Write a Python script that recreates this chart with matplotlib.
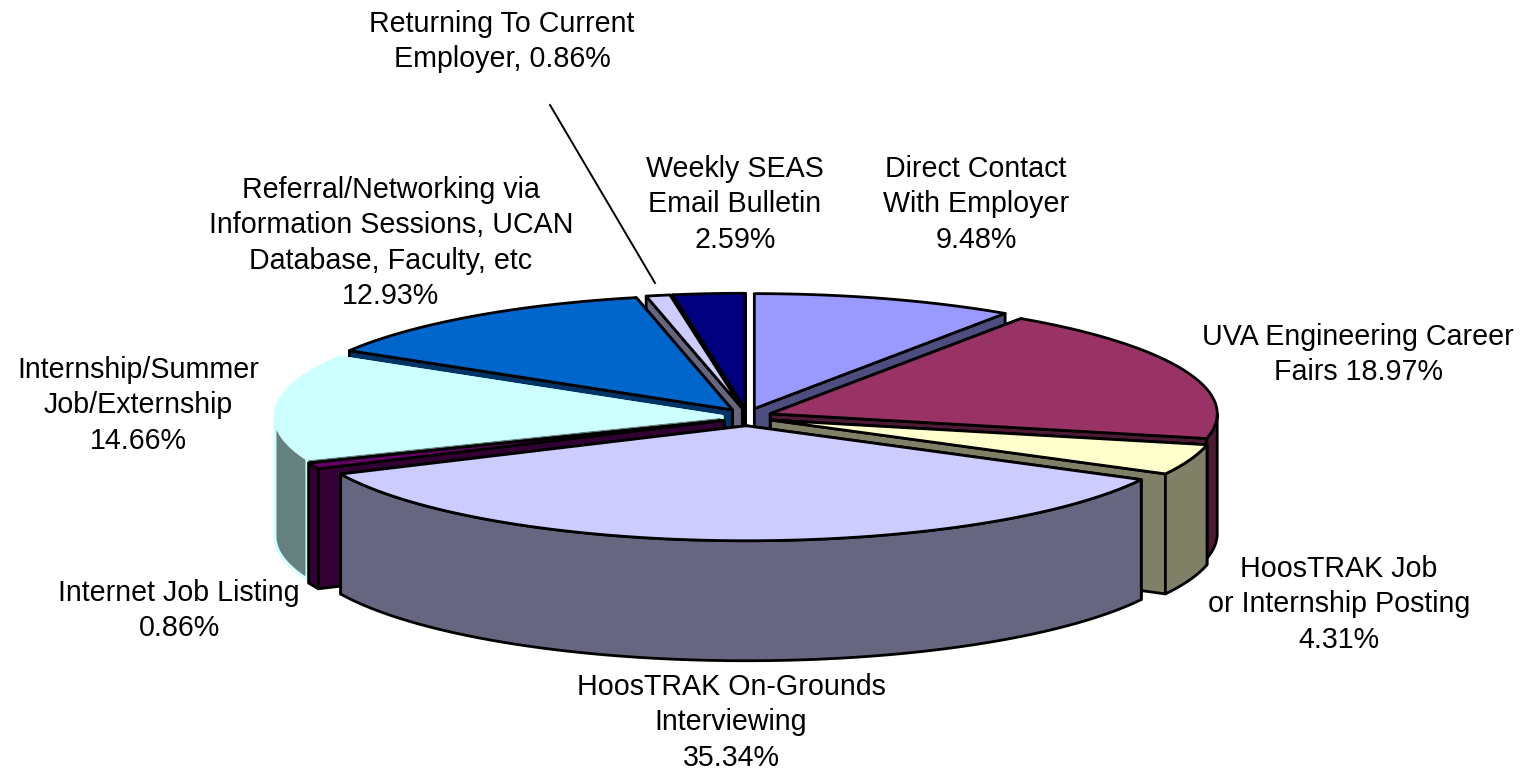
import numpy as np
import matplotlib
matplotlib.use('Agg')
import matplotlib.pyplot as plt

plt.rcParams['font.family'] = ['Liberation Sans', 'DejaVu Sans']

labels = ['Direct Contact\nWith Employer\n9.48%',
          'UVA Engineering Career\nFairs 18.97%',
          'HoosTRAK Job\nor Internship Posting\n4.31%',
          'HoosTRAK On-Grounds\nInterviewing\n35.34%',
          'Internet Job Listing\n0.86%',
          'Internship/Summer\nJob/Externship\n14.66%',
          'Referral/Networking via\nInformation Sessions, UCAN\nDatabase, Faculty, etc\n12.93%',
          'Returning To Current\nEmployer, 0.86%',
          'Weekly SEAS\nEmail Bulletin\n2.59%']
shares = [9.48, 18.97, 4.31, 35.34, 0.86, 14.66, 12.93, 0.86, 2.59]
top_colors = ['#9999FF', '#993366', '#FFFFCC', '#CCCCFF', '#660066',
              '#CCFFFF', '#0066CC', '#CCCCFF', '#000080']
side_colors = ['#4D4D80', '#4D1A33', '#808066', '#666680', '#330033',
               '#668080', '#003366', '#666680', '#000040']
edge_colors = ['black', 'black', 'black', 'black', 'black',
               '#CCFFFF', 'black', 'black', 'black']
label_xy = [(976, 155), (1358, 323), (1339, 555), (731, 673), (179, 579),
            (138, 356), (391, 176), (502, 10), (735, 155)]
draw_order = [8, 7, 0, 6, 1, 5, 2, 4, 3]

cx, cy = 747, 417
rx, ry = 447, 115
depth = 120
explode = 25

fig = plt.figure(figsize=(15.24, 7.71), dpi=100)
ax = fig.add_axes([0, 0, 1, 1])
ax.set_xlim(0, 1524)
ax.set_ylim(771, 0)
ax.axis('off')

ends = np.cumsum(shares) / sum(shares) * 2 * np.pi
starts = ends - np.array(shares) / sum(shares) * 2 * np.pi


def point(x0, y0, t):
    return x0 + rx * np.sin(t), y0 - ry * np.cos(t)


for i in draw_order:
    mid = (starts[i] + ends[i]) / 2
    x0 = cx + explode * np.sin(mid)
    y0 = cy - explode * 0.35 * np.cos(mid)
    style = dict(edgecolor=edge_colors[i], linewidth=2.0, joinstyle='round')

    # cut faces, the one further back first
    faces = sorted([starts[i], ends[i]], key=lambda t: -np.cos(t))
    for t in faces:
        x1, y1 = point(x0, y0, t)
        ax.fill([x0, x1, x1, x0], [y0, y1, y1 + depth, y0 + depth],
                facecolor=side_colors[i], **style)

    # outer wall, only the part facing the viewer
    a = max(starts[i], np.pi / 2)
    b = min(ends[i], 3 * np.pi / 2)
    if b > a:
        t = np.linspace(a, b, 80)
        x1, y1 = point(x0, y0, t)
        ax.fill(np.r_[x1, x1[::-1]], np.r_[y1, y1[::-1] + depth],
                facecolor=side_colors[i], **style)

    t = np.linspace(starts[i], ends[i], 120)
    x1, y1 = point(x0, y0, t)
    ax.fill(np.r_[x0, x1], np.r_[y0, y1], facecolor=top_colors[i], **style)

for text, (x, y) in zip(labels, label_xy):
    ax.text(x, y, text, ha='center', va='top', fontsize=20.6, linespacing=1.33,
            color='black')

ax.plot([550, 655], [105, 283], color='black', linewidth=1.4)

fig.savefig('out.png', dpi=100)
